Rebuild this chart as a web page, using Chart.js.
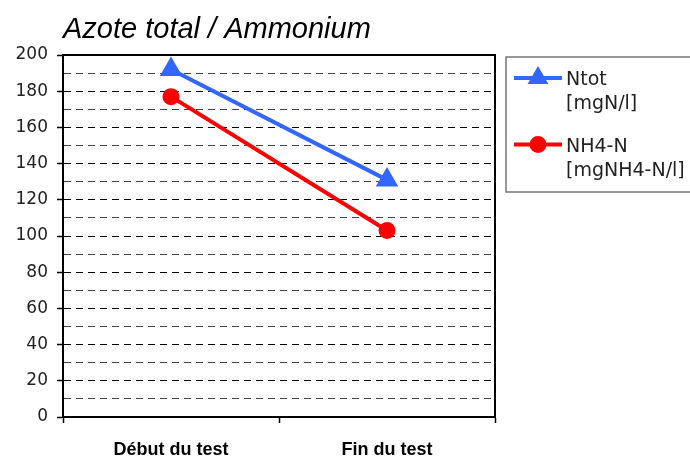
<!DOCTYPE html>
<html>
<head>
<meta charset="utf-8">
<script src="https://cdn.jsdelivr.net/npm/chart.js@4.4.1/dist/chart.umd.min.js"></script>
<style>
  html, body { margin: 0; padding: 0; background: #fff; }
</style>
</head>
<body>
<canvas id="chart" width="690" height="457"></canvas>
<script>
const categories = ["Début du test", "Fin du test"];
const ntotValues = [192, 131];
const nh4Values = [177, 103];
const legendLines = [["Ntot", "[mgN/l]"], ["NH4-N", "[mgNH4-N/l]"]];
const yMin = 0;
const yMax = 200;
const yStep = 10;
const yLabelStep = 20;

const BLUE = "#3366ff";
const RED = "#ff0000";

// frame: solid top and right border of the plot area
const framePlugin = {
  id: "frame",
  afterDatasetsDraw(chart) {
    const { ctx, chartArea: a } = chart;
    ctx.save();
    ctx.strokeStyle = "#000";
    ctx.lineWidth = 2;
    ctx.beginPath();
    ctx.moveTo(a.left, a.top);
    ctx.lineTo(a.right, a.top);
    ctx.lineTo(a.right, a.bottom);
    ctx.stroke();
    ctx.restore();
  }
};

// legend box on the right with two-line labels
const boxLegend = {
  id: "boxLegend",
  afterDraw(chart) {
    const { ctx, chartArea: a } = chart;
    const bx = a.right + 11;
    const by = a.top + 2;
    ctx.save();
    ctx.strokeStyle = "#777";
    ctx.lineWidth = 1.5;
    ctx.strokeRect(bx, by, 200, 135);
    chart.data.datasets.forEach((ds, i) => {
      const ly = by + 21 + i * 66.5;
      ctx.strokeStyle = ds.borderColor;
      ctx.fillStyle = ds.pointBackgroundColor;
      ctx.lineWidth = ds.borderWidth;
      ctx.beginPath();
      ctx.moveTo(bx + 8, ly);
      ctx.lineTo(bx + 56, ly);
      ctx.stroke();
      Chart.helpers.drawPoint(ctx, {
        pointStyle: ds.pointStyle,
        radius: ds.pointStyle === "triangle" ? 8 : 6.5,
        rotation: 0,
        borderWidth: 1
      }, bx + 32, ly);
      ctx.fillStyle = "#222";
      ctx.font = "19px 'DejaVu Sans'";
      ctx.textBaseline = "alphabetic";
      legendLines[i].forEach((t, k) => {
        ctx.fillText(t, bx + 60, ly + 7 + k * 24);
      });
    });
    ctx.restore();
  }
};

new Chart(document.getElementById("chart"), {
  type: "line",
  data: {
    labels: categories,
    datasets: [
      {
        label: legendLines[0].join(" "),
        data: ntotValues,
        borderColor: BLUE,
        backgroundColor: BLUE,
        pointBackgroundColor: BLUE,
        pointBorderColor: BLUE,
        borderWidth: 4,
        pointStyle: "triangle",
        pointRadius: 9,
        pointHoverRadius: 9,
        tension: 0
      },
      {
        label: legendLines[1].join(" "),
        data: nh4Values,
        borderColor: RED,
        backgroundColor: RED,
        pointBackgroundColor: RED,
        pointBorderColor: RED,
        borderWidth: 4,
        pointStyle: "circle",
        pointRadius: 6.5,
        pointHoverRadius: 6.5,
        tension: 0
      }
    ]
  },
  options: {
    responsive: false,
    animation: false,
    events: [],
    layout: { padding: { left: 0, right: 195, top: 0, bottom: 0 } },
    plugins: {
      legend: { display: false },
      tooltip: { enabled: false },
      title: {
        display: true,
        text: "Azote total / Ammonium",
        align: "start",
        fullSize: false,
        color: "#000",
        font: { family: "'Liberation Sans', Arial", size: 29, style: "italic", weight: "normal", lineHeight: 1.2 },
        padding: { top: 13, bottom: 7.2 }
      }
    },
    scales: {
      x: {
        offset: true,
        grid: {
          offset: true,
          drawOnChartArea: false,
          drawTicks: true,
          tickLength: 6,
          tickColor: "#000",
          tickWidth: 1.5
        },
        border: { display: true, color: "#000", width: 2 },
        ticks: {
          color: "#000",
          padding: 16,
          font: { family: "'Liberation Sans', Arial", size: 18, weight: "bold" }
        },
        afterFit(scale) { scale.height = 40; }
      },
      y: {
        min: yMin,
        max: yMax,
        grid: {
          drawTicks: true,
          tickLength: 6,
          tickWidth: 1.5,
          tickColor: ctx => (ctx.tick && ctx.tick.value % yLabelStep === 0) ? "#000" : "rgba(0,0,0,0)",
          color: ctx => {
            const v = ctx.tick ? ctx.tick.value : 0;
            if (v === yMin || v === yMax) return "rgba(0,0,0,0)";
            return v % yLabelStep === 0 ? "#000" : "#444";
          },
          lineWidth: 1
        },
        border: { display: true, color: "#000", width: 2, dash: [7, 5] },
        ticks: {
          stepSize: yStep,
          autoSkip: false,
          color: "#222",
          padding: 9,
          font: { family: "'DejaVu Sans'", size: 17 },
          callback: v => (v % yLabelStep === 0 ? String(v) : "")
        },
        afterFit(scale) { scale.width = 63; }
      }
    }
  },
  plugins: [framePlugin, boxLegend]
});
</script>
</body>
</html>
